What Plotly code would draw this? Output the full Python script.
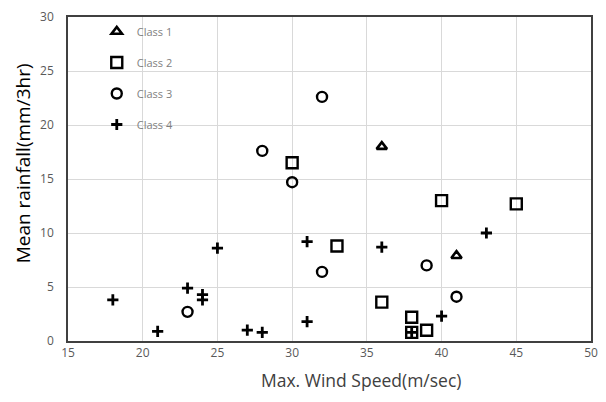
import plotly.graph_objects as go

# Max. wind speed (m/sec) and mean rainfall (mm/3hr) per class
class1_x = [36, 41]
class1_y = [18.0, 7.9]

class2_x = [30, 33, 40, 45, 36, 38, 38, 39]
class2_y = [16.5, 8.8, 13.0, 12.7, 3.6, 2.2, 0.8, 1.0]

class3_x = [32, 28, 30, 32, 39, 41, 23]
class3_y = [22.6, 17.6, 14.7, 6.4, 7.0, 4.1, 2.7]

class4_x = [18, 21, 23, 24, 24, 25, 27, 28, 31, 31, 36, 38, 40, 43]
class4_y = [3.8, 0.9, 4.9, 4.3, 3.8, 8.6, 1.0, 0.8, 9.2, 1.8, 8.7, 0.8, 2.3, 10.0]

x_ticks = [15, 20, 25, 30, 35, 40, 45, 50]
y_ticks = [0, 5, 10, 15, 20, 25, 30]

x_title = "Max. Wind Speed(m/sec)"
y_title = "Mean rainfall(mm/3hr)"

fig = go.Figure()

series = [
    ("Class 1", class1_x, class1_y, "triangle-up-open", 9, 2.6),
    ("Class 2", class2_x, class2_y, "square-open", 11, 2.4),
    ("Class 3", class3_x, class3_y, "circle-open", 10, 2.4),
    ("Class 4", class4_x, class4_y, "cross-thin-open", 8, 2.8),
]
for name, xs, ys, sym, size, lw in series:
    fig.add_trace(go.Scatter(
        x=xs, y=ys, mode="markers", name=name, legendgroup=name,
        marker=dict(symbol=sym, size=size, color="black",
                    line=dict(color="black", width=lw)),
    ))

# Axis titles placed as paper-anchored annotations
fig.add_annotation(
    text=x_title, xref="paper", yref="paper", x=0.56, y=-0.121,
    xanchor="center", yanchor="middle", showarrow=False,
    font=dict(size=17.5, color="#404040"),
)
fig.add_annotation(
    text=y_title, xref="paper", yref="paper", x=-0.087, y=0.55,
    xanchor="center", yanchor="middle", showarrow=False, textangle=-90,
    font=dict(size=19, color="black"),
)

fig.update_layout(
    width=606, height=402,
    margin=dict(l=68, r=8, t=10, b=61),
    paper_bgcolor="white", plot_bgcolor="white",
    font=dict(family="'Open Sans', Lato, sans-serif", color="#595959"),
    showlegend=True,
    legend=dict(
        x=0.055, y=1.0, xanchor="left", yanchor="top",
        bgcolor="rgba(0,0,0,0)",
        font=dict(size=11, color="#7f7f7f"),
        tracegroupgap=12, itemwidth=30,
    ),
    xaxis=dict(
        range=[15, 50], tickvals=x_ticks, ticks="",
        showgrid=True, gridcolor="#d9d9d9", gridwidth=1,
        showline=True, linecolor="#404040", linewidth=1.5, mirror=True,
        zeroline=False, tickfont=dict(size=12, color="#595959"),
    ),
    yaxis=dict(
        range=[0, 30], tickvals=y_ticks, ticks="", ticklabelstandoff=10,
        showgrid=True, gridcolor="#d9d9d9", gridwidth=1,
        showline=True, linecolor="#404040", linewidth=1.5, mirror=True,
        zeroline=False, tickfont=dict(size=12, color="#595959"),
    ),
)

fig.write_html("out.html")
